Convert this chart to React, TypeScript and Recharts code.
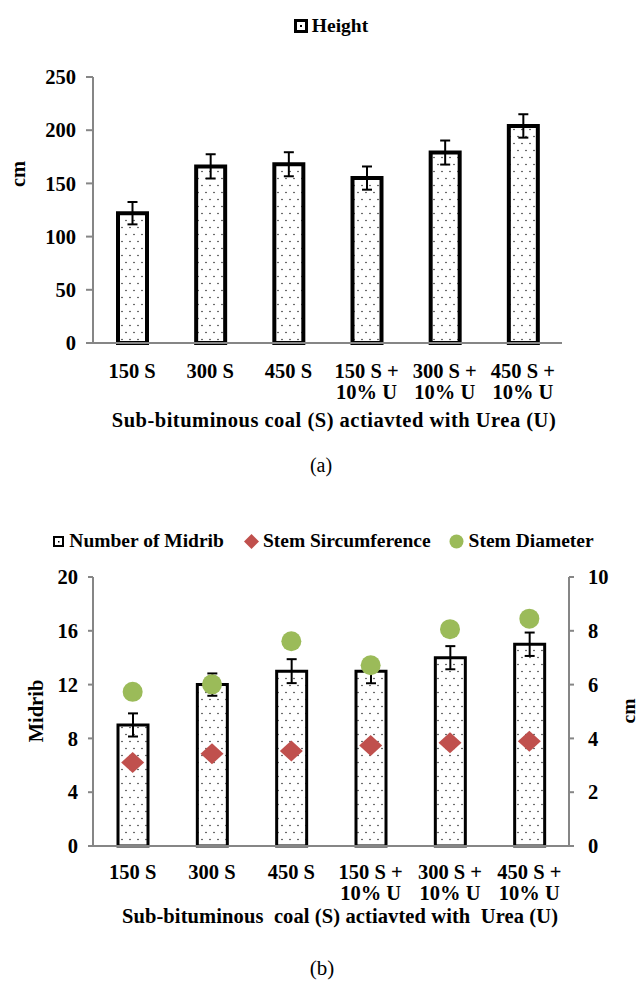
import React from 'react';
import { ComposedChart, Bar, XAxis, YAxis, ErrorBar, Line, Legend } from 'recharts';

const categories = ['150 S', '300 S', '450 S', '150 S +\n10% U', '300 S +\n10% U', '450 S +\n10% U'];
const heightValues = [122, 166, 168, 155, 179, 204];
const heightErrors = [10.5, 11.4, 11.3, 10.9, 11.3, 11];
const midribValues = [9, 12, 13, 13, 14, 15];
const midribErrors = [0.86, 0.83, 0.89, 0.9, 0.86, 0.87];
const circumferenceValues = [3.1, 3.43, 3.53, 3.74, 3.84, 3.89];
const diameterValues = [5.73, 6.01, 7.61, 6.72, 8.06, 8.45];
const heightTicks = [0, 50, 100, 150, 200, 250];
const midribTicks = [0, 4, 8, 12, 16, 20];
const cmTicks = [0, 2, 4, 6, 8, 10];
const boundaryTicks = [0, 1, 2, 3, 4, 5, 6];
const xTitleA = 'Sub-bituminous coal (S) actiavted with Urea (U)';
const xTitleB = 'Sub-bituminous  coal (S) actiavted with  Urea (U)';

const heightData = categories.map((name, i) => ({ name, height: heightValues[i], err: heightErrors[i] }));
const midribData = categories.map((name, i) => ({
  name,
  midrib: midribValues[i],
  err: midribErrors[i],
  circ: circumferenceValues[i],
  diam: diameterValues[i],
}));

const FONT = '"Liberation Serif", "Times New Roman", serif';
const AXIS = '#868686';
const RED = '#C0504D';
const GREEN = '#9BBB59';

const CatTick = (props: any) => {
  const { x, y, payload, firstDy, lineH } = props;
  const lines = String(payload.value).split('\n');
  return (
    <text x={x} y={y} textAnchor="middle" fontFamily={FONT} fontWeight="bold" fontSize={20.5} fill="#000">
      {lines.map((l: string, i: number) => (
        <tspan key={i} x={x} dy={i === 0 ? firstDy : lineH}>{l}</tspan>
      ))}
    </text>
  );
};

const XTitle = (props: any) => {
  const { tx, ty, text, cap, cx, cy, capSize, ls } = props;
  return (
    <g>
      <text x={tx} y={ty} textAnchor="middle" fontFamily={FONT} fontWeight="bold" fontSize={20.5} letterSpacing={ls} fill="#000" style={{ whiteSpace: 'pre' }}>{text}</text>
      <text x={cx} y={cy} textAnchor="middle" fontFamily={FONT} fontSize={capSize} fill="#000">{cap}</text>
    </g>
  );
};

const YTitle = (props: any) => {
  const { px, py, text, size } = props;
  return (
    <text x={px} y={py} transform={`rotate(-90 ${px} ${py})`} textAnchor="middle" dominantBaseline="central" fontFamily={FONT} fontWeight="bold" fontSize={size || 20.5} fill="#000">{text}</text>
  );
};

const Diamond = (props: any) => {
  const { cx, cy } = props;
  if (cx == null || cy == null) return null;
  return <polygon points={`${cx},${cy - 10.5} ${cx + 11.5},${cy} ${cx},${cy + 10.5} ${cx - 11.5},${cy}`} fill={RED} />;
};

const Circle = (props: any) => {
  const { cx, cy } = props;
  if (cx == null || cy == null) return null;
  return <circle cx={cx} cy={cy} r={10} fill={GREEN} />;
};

const tickStyle = { fill: '#000', fontSize: 20.5, fontWeight: 'bold', fontFamily: FONT };
const legendText: React.CSSProperties = { fontFamily: FONT, fontWeight: 'bold', fontSize: 19.5, color: '#000', whiteSpace: 'pre' };

const TopLegend = () => (
  <div style={{ display: 'flex', justifyContent: 'center', alignItems: 'center', paddingLeft: 22 }}>
    <svg width={14} height={14} style={{ marginRight: 4 }}>
      <rect x={1.5} y={1.5} width={11} height={11} fill="#fff" stroke="#000" strokeWidth={3} />
      <rect x={6} y={6} width={2} height={2} fill="#000" />
    </svg>
    <span style={legendText}>Height</span>
  </div>
);

const BottomLegend = () => (
  <div style={{ display: 'flex', justifyContent: 'center', alignItems: 'center', paddingLeft: 7 }}>
    <svg width={11} height={11} style={{ marginRight: 5 }}>
      <rect x={1} y={1} width={9} height={9} fill="#fff" stroke="#000" strokeWidth={2} />
      <rect x={5} y={5} width={1.5} height={1.5} fill="#000" />
    </svg>
    <span style={legendText}>Number of Midrib</span>
    <svg width={15} height={15} style={{ marginLeft: 20, marginRight: 4 }}>
      <polygon points="7.5,0 15,7.5 7.5,15 0,7.5" fill={RED} />
    </svg>
    <span style={legendText}>Stem Sircumference</span>
    <svg width={15} height={15} style={{ marginLeft: 18, marginRight: 5 }}>
      <circle cx={7.5} cy={7.5} r={7} fill={GREEN} />
    </svg>
    <span style={legendText}>Stem Diameter</span>
  </div>
);

const Pattern = ({ id }: { id: string }) => (
  <pattern id={id} patternUnits="userSpaceOnUse" width={8} height={14}>
    <rect width={8} height={14} fill="#fff" />
    <circle cx={2} cy={3.5} r={0.8} fill="#333" />
    <circle cx={6} cy={10.5} r={0.8} fill="#333" />
  </pattern>
);

export default function App() {
  return (
    <div style={{ position: 'absolute', left: 0, top: 0, width: 640, height: 985, background: '#fff' }}>
      <div style={{ position: 'absolute', left: 0, top: 0 }}>
        <ComposedChart width={640} height={500} data={heightData} margin={{ top: 77, right: 78, bottom: 0, left: 0 }}>
          <defs>
            <Pattern id="dotsA" />
          </defs>
          <XAxis
            xAxisId={0}
            type="number"
            domain={[0, 6]}
            ticks={boundaryTicks}
            allowDataOverflow
            tick={false}
            tickSize={7}
            height={1}
            axisLine={{ stroke: AXIS, strokeWidth: 2 }}
            tickLine={{ stroke: AXIS, strokeWidth: 2 }}
          />
          <XAxis
            xAxisId="cat"
            dataKey="name"
            type="category"
            interval={0}
            axisLine={false}
            tickLine={false}
            tickSize={0}
            tickMargin={0}
            height={156}
            tick={<CatTick firstDy={34} lineH={21} />}
            label={<XTitle tx={334} ty={427} ls={0.5} text={xTitleA} cap="(a)" cx={321} cy={472} capSize={20} />}
          />
          <YAxis
            yAxisId="left"
            domain={[0, 250]}
            ticks={heightTicks}
            interval={0}
            width={93}
            tickSize={7}
            tickMargin={10}
            axisLine={{ stroke: AXIS, strokeWidth: 2 }}
            tickLine={{ stroke: AXIS, strokeWidth: 2 }}
            tick={tickStyle}
            label={<YTitle px={18} py={174} text="cm" />}
          />
          <Legend verticalAlign="middle" layout="horizontal" wrapperStyle={{ top: 15, left: 0, width: 640 }} content={() => <TopLegend />} />
          <Bar xAxisId="cat" yAxisId="left" dataKey="height" name="Height" fill="url(#dotsA)" stroke="#000" strokeWidth={4} barSize={29} isAnimationActive={false}>
            <ErrorBar dataKey="err" direction="y" width={5} stroke="#000" strokeWidth={2} isAnimationActive={false} />
          </Bar>
        </ComposedChart>
      </div>
      <div style={{ position: 'absolute', left: 0, top: 500 }}>
        <ComposedChart width={640} height={485} data={midribData} margin={{ top: 77, right: 0, bottom: 0, left: 0 }}>
          <defs>
            <Pattern id="dotsB" />
          </defs>
          <XAxis
            xAxisId={0}
            type="number"
            domain={[0, 6]}
            ticks={boundaryTicks}
            allowDataOverflow
            tick={false}
            tickSize={6}
            height={1}
            axisLine={{ stroke: AXIS, strokeWidth: 2 }}
            tickLine={{ stroke: AXIS, strokeWidth: 2 }}
          />
          <XAxis
            xAxisId="cat"
            dataKey="name"
            type="category"
            interval={0}
            axisLine={false}
            tickLine={false}
            tickSize={0}
            tickMargin={0}
            height={138}
            tick={<CatTick firstDy={32} lineH={21} />}
            label={<XTitle tx={340} ty={423} ls={0.1} text={xTitleB} cap="(b)" cx={322} cy={475} capSize={21} />}
          />
          <YAxis
            yAxisId="left"
            domain={[0, 20]}
            ticks={midribTicks}
            interval={0}
            width={93}
            tickSize={5}
            tickMargin={10}
            axisLine={{ stroke: AXIS, strokeWidth: 2 }}
            tickLine={{ stroke: AXIS, strokeWidth: 2 }}
            tick={tickStyle}
            label={<YTitle px={36} py={211} text="Midrib" />}
          />
          <YAxis
            yAxisId="right"
            orientation="right"
            domain={[0, 10]}
            ticks={cmTicks}
            interval={0}
            width={71}
            tickSize={5}
            tickMargin={14}
            axisLine={{ stroke: AXIS, strokeWidth: 2 }}
            tickLine={{ stroke: AXIS, strokeWidth: 2 }}
            tick={tickStyle}
            label={<YTitle px={628} py={211} size={19.5} text="cm" />}
          />
          <Legend verticalAlign="middle" layout="horizontal" wrapperStyle={{ top: 30, left: 0, width: 640 }} content={() => <BottomLegend />} />
          <Bar xAxisId="cat" yAxisId="left" dataKey="midrib" name="Number of Midrib" fill="url(#dotsB)" stroke="#000" strokeWidth={3} barSize={30} isAnimationActive={false}>
            <ErrorBar dataKey="err" direction="y" width={5} stroke="#000" strokeWidth={2} isAnimationActive={false} />
          </Bar>
          <Line xAxisId="cat" yAxisId="right" dataKey="circ" name="Stem Sircumference" stroke="none" dot={<Diamond />} activeDot={false} isAnimationActive={false} />
          <Line xAxisId="cat" yAxisId="right" dataKey="diam" name="Stem Diameter" stroke="none" dot={<Circle />} activeDot={false} isAnimationActive={false} />
        </ComposedChart>
      </div>
    </div>
  );
}
